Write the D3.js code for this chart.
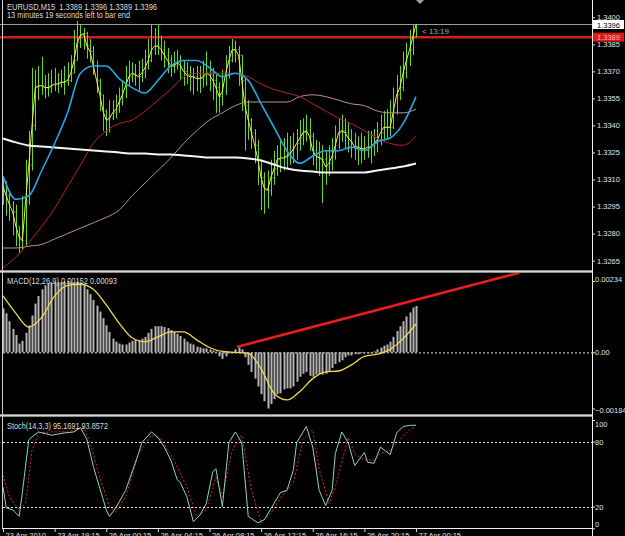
<!DOCTYPE html>
<html>
<head>
<meta charset="utf-8">
<script src="https://cdnjs.cloudflare.com/ajax/libs/d3/7.8.5/d3.min.js"></script>
<style>
  body { margin: 0; background: #000; }
  svg { display: block; }
  text { font-family: "Liberation Sans", Arial, sans-serif; white-space: pre; }
</style>
</head>
<body>
<script>
/*
EURUSD M15 terminal chart: price bars with moving averages,
MACD(12,26,9) and Stochastic(14,3,3) windows underneath
*/

var w = 625;
var h = 536;

// price bars, one entry per M15 bar (bar 0 .. bar 128)
var barHigh = [
  1.3312,1.3309,1.3304,1.3298,1.3296,1.3284,1.3301,1.3321,1.3337,1.3372,
  1.3371,1.3373,1.3378,1.3368,1.3369,1.3371,1.3372,1.3369,1.3371,1.3373,
  1.3375,1.3379,1.3393,1.3398,1.3396,1.3394,1.3392,1.3388,1.3384,1.3376,
  1.3366,1.3357,1.3349,1.3354,1.3354,1.3357,1.3361,1.3365,1.3373,1.3376,
  1.3375,1.3374,1.3376,1.3377,1.3382,1.3388,1.3396,1.3394,1.3396,1.3390,
  1.3387,1.3383,1.3379,1.3381,1.3382,1.3379,1.3376,1.3375,1.3373,1.3372,
  1.3373,1.3373,1.3376,1.3381,1.3376,1.3372,1.3368,1.3364,1.3371,1.3379,
  1.3384,1.3388,1.3387,1.3384,1.3379,1.3366,1.3354,1.3344,1.3338,1.3332,
  1.3321,1.3314,1.3315,1.3321,1.3326,1.3329,1.3332,1.3333,1.3336,1.3334,
  1.3336,1.3338,1.3343,1.3344,1.3346,1.3344,1.3336,1.3332,1.3331,1.3329,
  1.3326,1.3329,1.3333,1.3340,1.3344,1.3346,1.3344,1.3342,1.3338,1.3336,
  1.3334,1.3336,1.3334,1.3337,1.3337,1.3338,1.3342,1.3346,1.3348,1.3349,
  1.3354,1.3361,1.3368,1.3373,1.3381,1.3386,1.3393,1.3396,1.3396
];
var barLow = [
  1.3296,1.3290,1.3287,1.3279,1.3273,1.3269,1.3271,1.3273,1.3296,1.3315,
  1.3337,1.3354,1.3357,1.3355,1.3356,1.3358,1.3359,1.3358,1.3361,1.3357,
  1.3362,1.3364,1.3369,1.3376,1.3383,1.3382,1.3377,1.3375,1.3368,1.3358,
  1.3348,1.3337,1.3334,1.3336,1.3343,1.3344,1.3347,1.3351,1.3355,1.3362,
  1.3364,1.3362,1.3359,1.3364,1.3366,1.3371,1.3375,1.3379,1.3379,1.3376,
  1.3372,1.3369,1.3367,1.3369,1.3371,1.3365,1.3362,1.3363,1.3359,1.3357,
  1.3359,1.3358,1.3361,1.3362,1.3359,1.3354,1.3347,1.3347,1.3351,1.3357,
  1.3366,1.3375,1.3375,1.3362,1.3348,1.3326,1.3332,1.3327,1.3319,1.3307,
  1.3293,1.3291,1.3294,1.3301,1.3307,1.3312,1.3314,1.3315,1.3316,1.3318,
  1.3319,1.3321,1.3326,1.3329,1.3331,1.3326,1.3318,1.3315,1.3312,1.3297,
  1.3307,1.3312,1.3315,1.3321,1.3327,1.3331,1.3327,1.3325,1.3322,1.3321,
  1.3318,1.3319,1.3321,1.3322,1.3319,1.3323,1.3325,1.3329,1.3332,1.3333,
  1.3334,1.3338,1.3346,1.3354,1.3359,1.3366,1.3373,1.3379,1.3389
];
var barClose = [
  1.3306,1.3301,1.3296,1.3292,1.3284,1.3278,1.3276,1.3298,1.3318,1.3340,
  1.3361,1.3362,1.3362,1.3361,1.3361,1.3362,1.3363,1.3363,1.3364,1.3364,
  1.3365,1.3369,1.3376,1.3386,1.3390,1.3391,1.3384,1.3381,1.3373,1.3365,
  1.3357,1.3348,1.3343,1.3344,1.3347,1.3349,1.3353,1.3357,1.3362,1.3367,
  1.3369,1.3368,1.3367,1.3369,1.3372,1.3376,1.3382,1.3384,1.3384,1.3382,
  1.3379,1.3376,1.3373,1.3373,1.3375,1.3373,1.3370,1.3368,1.3367,1.3367,
  1.3366,1.3366,1.3367,1.3369,1.3368,1.3365,1.3361,1.3356,1.3359,1.3369,
  1.3376,1.3382,1.3382,1.3379,1.3365,1.3351,1.3343,1.3336,1.3329,1.3321,
  1.3311,1.3305,1.3304,1.3311,1.3316,1.3321,1.3322,1.3322,1.3323,1.3324,
  1.3327,1.3330,1.3333,1.3336,1.3337,1.3334,1.3326,1.3323,1.3322,1.3321,
  1.3317,1.3319,1.3323,1.3329,1.3336,1.3337,1.3336,1.3333,1.3331,1.3328,
  1.3328,1.3327,1.3327,1.3328,1.3328,1.3330,1.3332,1.3336,1.3339,1.3339,
  1.3339,1.3348,1.3357,1.3361,1.3369,1.3376,1.3382,1.3389,1.3396
];

// moving averages, read every 4th bar
var maBars = [0,4,8,12,16,20,24,28,32,36,40,44,48,52,56,60,64,68,72,76,80,84,88,92,96,100,104,108,112,116,120,124,128];
var maBlue = [
  1.3312,1.3299,1.3301,1.3315,1.3330,1.3347,1.3369,1.3373,1.3373,1.3366,
  1.3361,1.3358,1.3365,1.3373,1.3376,1.3376,1.3372,1.3367,1.3369,1.3365,
  1.3352,1.3339,1.3326,1.3319,1.3323,1.3326,1.3326,1.3328,1.3326,1.3331,
  1.3333,1.3341,1.3356
];
var maBrown = [
  1.3261,1.3267,1.3275,1.3284,1.3294,1.3306,1.3318,1.3330,1.3337,1.3341,
  1.3343,1.3348,1.3354,1.3360,1.3367,1.3369,1.3369,1.3369,1.3369,1.3367,
  1.3363,1.3360,1.3358,1.3356,1.3352,1.3348,1.3344,1.3341,1.3337,1.3333,
  1.3330,1.3329,1.3334
];
var maRosy = [
  1.3272,1.3272,1.3273,1.3274,1.3277,1.3280,1.3283,1.3286,1.3289,1.3293,
  1.3301,1.3308,1.3315,1.3322,1.3330,1.3337,1.3343,1.3347,1.3351,1.3353,
  1.3353,1.3353,1.3353,1.3356,1.3357,1.3356,1.3354,1.3352,1.3351,1.3348,
  1.3347,1.3347,1.3349
];
var maWhite = [
  1.33328,1.33306,1.33289,1.33283,1.33278,1.33272,1.33267,1.33261,1.33256,1.33250,
  1.33244,1.33244,1.33239,1.33239,1.33233,1.33228,1.33222,1.33222,1.33222,1.33217,
  1.33206,1.33183,1.33161,1.33150,1.33144,1.33139,1.33139,1.33139,1.33139,1.33150,
  1.33161,1.33172,1.33189
];

var priceDomain = [1.32598, 1.34096];
var priceTicks = [1.3265,1.3280,1.3295,1.3310,1.3325,1.3340,1.3355,1.3370,1.3385,1.3400];
var bidPrice = 1.3396;
var hLinePrice = 1.3389;

// MACD histogram, one per bar
var macdHist = [
  0.00144,0.00128,0.00102,0.00077,0.00057,0.00029,0.00038,0.00064,0.00089,0.00121,
  0.00160,0.00185,0.00207,0.00220,0.00227,0.00230,0.00230,0.00230,0.00230,0.00233,
  0.00234,0.00230,0.00230,0.00233,0.00230,0.00223,0.00207,0.00191,0.00172,0.00153,
  0.00134,0.00112,0.00089,0.00067,0.00045,0.00035,0.00029,0.00026,0.00026,0.00032,
  0.00038,0.00041,0.00041,0.00045,0.00051,0.00064,0.00077,0.00086,0.00086,0.00086,
  0.00083,0.00080,0.00073,0.00067,0.00061,0.00054,0.00045,0.00035,0.00029,0.00026,
  0.00019,0.00016,0.00013,0.00013,0.00010,0.00006,0.00003,-0.00013,-0.00022,-0.00013,
  -0.00003,-0.00003,0.00010,0.00016,0.00010,-0.00016,-0.00041,-0.00064,-0.00086,-0.00112,
  -0.00137,-0.00160,-0.00184,-0.00169,-0.00153,-0.00137,-0.00134,-0.00121,-0.00118,-0.00118,
  -0.00112,-0.00096,-0.00080,-0.00070,-0.00064,-0.00077,-0.00080,-0.00073,-0.00070,-0.00073,
  -0.00070,-0.00064,-0.00051,-0.00038,-0.00032,-0.00026,-0.00016,-0.00010,-0.00010,-0.00006,
  -0.00006,-0.00003,-0.00003,-0.00003,-0.00003,0.00003,0.00010,0.00016,0.00022,0.00026,
  0.00035,0.00051,0.00070,0.00086,0.00102,0.00118,0.00131,0.00147,0.00152
];
// MACD signal line, read at maBars
var macdSignal = [
  0.00185,0.00128,0.00083,0.00115,0.00185,0.00220,0.00223,0.00207,0.00156,0.00096,
  0.00048,0.00035,0.00051,0.00067,0.00067,0.00041,0.00016,0.00003,0,-0.00003,
  -0.00054,-0.00134,-0.00156,-0.00128,-0.00086,-0.00064,-0.00061,-0.00041,-0.00013,-0.00006,
  0.00010,0.00045,0.00093
];
// trend line drawn on the MACD window: [bar, value]
var macdTrend = [[72.5, 0.00018], [160, 0.00261]];

// stochastic main and signal, [bar] and [value]
var stochMainBars = [0,1,3,5,6,8,11,15,19,22,24,26,28,30,32,33,35,38,42,43,46,48,50,52,54,55,57,59,61,63,65,66,68,70,72,74,76,79,81,84,86,88,90,91,94,96,98,100,102,103,105,107,109,112,113,115,117,120,122,124,126,128];
var stochMain = [38,19,17,11,33,82,89,86,88,89,93,82,57,37,17,11,19,35,69,79,89,84,75,63,45,42,29,6,12,23,52,55,20,79,89,79,11,5,8,23,33,35,54,79,94,75,35,21,35,69,89,79,58,70,61,60,75,68,88,94,95,95.17];
var stochSigBars = [0,2,5,7,9,11,15,20,25,27,30,33,35,38,42,46,49,53,57,60,63,66,68,71,74,77,80,83,87,90,93,96,98,101,103,107,109,112,115,117,120,122,126,128];
var stochSignal = [49,29,17,23,72,88,89,89,93,79,47,20,15,29,69,86,82,63,38,11,17,47,29,72,86,35,5,14,32,42,82,91,55,23,38,84,69,63,63,69,72,79,91,93.86];
var stochLevels = [20, 80];
var stochTicks = [0, 20, 80, 100];

// time axis
var timeBars = [0,16,32,48,64,80,96,112,128];
var timeLabels = ["23 Apr 2010","23 Apr 19:15","26 Apr 00:15","26 Apr 04:15","26 Apr 08:15","26 Apr 12:15","26 Apr 16:15","26 Apr 20:15","27 Apr 00:15"];

window.onload = function() {

  var svg = d3.select("body")
              .append("svg")
              .attr("width", w)
              .attr("height", h)
              .style("background", "#000");

  var axisX = 592;

  var x = d3.scaleLinear().domain([0, 128]).range([3, 416]);
  var yPrice = d3.scaleLinear().domain(priceDomain).range([270, 0]);
  var yMacd = d3.scaleLinear().domain([d3.min(macdHist), d3.max(macdHist)]).range([408.5, 281]);
  var yStoch = d3.scaleLinear().domain([0, 100]).range([528.3, 420]);

  // clip areas for the three windows
  var defs = svg.append("defs");
  [["clipMain", 0, 270], ["clipMacd", 273, 141], ["clipStoch", 417, 111]].forEach(function(c) {
    defs.append("clipPath").attr("id", c[0])
        .append("rect").attr("x", 0).attr("y", c[1]).attr("width", axisX).attr("height", c[2]);
  });

  // ---- main window ----
  var main = svg.append("g").attr("clip-path", "url(#clipMain)");

  // horizontal line and bid line
  main.append("line")
      .attr("x1", 0).attr("x2", axisX)
      .attr("y1", yPrice(hLinePrice)).attr("y2", yPrice(hLinePrice))
      .attr("stroke", "#d01c1c").attr("stroke-width", 2.5);
  main.append("line")
      .attr("x1", 0).attr("x2", axisX)
      .attr("y1", yPrice(bidPrice)).attr("y2", yPrice(bidPrice))
      .attr("stroke", "#9c9c9c").attr("stroke-width", 1);

  // bars
  var bars = main.append("g").attr("stroke", "#63d92c").attr("stroke-width", 1);
  barClose.forEach(function(c, i) {
    var open = i > 0 ? barClose[i - 1] : c;
    var bx = Math.round(x(i)) + 0.5;
    bars.append("line").attr("x1", bx).attr("x2", bx)
        .attr("y1", yPrice(barHigh[i])).attr("y2", yPrice(barLow[i]));
    bars.append("line").attr("x1", bx - 1).attr("x2", bx)
        .attr("y1", yPrice(open)).attr("y2", yPrice(open));
    bars.append("line").attr("x1", bx).attr("x2", bx + 1)
        .attr("y1", yPrice(c)).attr("y2", yPrice(c));
  });

  // close line
  main.append("path")
      .datum(barClose)
      .attr("fill", "none")
      .attr("stroke", "#f2ee3c")
      .attr("stroke-width", 1)
      .attr("d", d3.line().x(function(d, i) { return x(i); }).y(function(d) { return yPrice(d); }));

  // moving averages
  var maLine = d3.line()
                 .curve(d3.curveMonotoneX)
                 .x(function(d, i) { return x(maBars[i]); })
                 .y(function(d) { return yPrice(d); });
  [[maRosy, "#c09088", 1], [maBrown, "#b02a22", 1], [maWhite, "#f4f4f4", 2], [maBlue, "#22a8e6", 1.6]].forEach(function(m) {
    main.append("path").datum(m[0])
        .attr("fill", "none").attr("stroke", m[1]).attr("stroke-width", m[2])
        .attr("d", maLine);
  });

  // header text
  svg.append("text").attr("x", 7).attr("y", 9.5)
     .attr("fill", "#dcdcdc").style("font-size", "8.5px")
     .attr("textLength", 150).attr("lengthAdjust", "spacingAndGlyphs")
     .text("EURUSD,M15  1.3389 1.3396 1.3389 1.3396");
  svg.append("text").attr("x", 7).attr("y", 17.5)
     .attr("fill", "#dcdcdc").style("font-size", "8.5px")
     .attr("textLength", 123).attr("lengthAdjust", "spacingAndGlyphs")
     .text("13 minutes 19 seconds left to bar end");

  // time left label and shift marker
  svg.append("text").attr("x", x(128) + 6).attr("y", 33.5)
     .attr("fill", "#a8a8a8").style("font-size", "8px")
     .text("< 13:19");
  svg.append("path")
     .attr("d", "M416,0 L420,4 L424,0 Z")
     .attr("fill", "#a0a0a0");

  // ---- MACD window ----
  var macd = svg.append("g").attr("clip-path", "url(#clipMacd)");

  macd.append("line")
      .attr("x1", 3).attr("x2", axisX)
      .attr("y1", yMacd(0) + 0.5).attr("y2", yMacd(0) + 0.5)
      .attr("stroke", "#e6e6e6").attr("stroke-dasharray", "2,2");

  macd.selectAll(".hist")
      .data(macdHist)
      .enter()
      .append("rect")
      .attr("class", "hist")
      .attr("x", function(d, i) { return Math.round(x(i)) - 0.5; })
      .attr("width", 2)
      .attr("y", function(d) { return Math.min(yMacd(d), yMacd(0)); })
      .attr("height", function(d) { return Math.abs(yMacd(d) - yMacd(0)); })
      .attr("fill", "#b4b4b4");

  macd.append("path")
      .datum(macdSignal)
      .attr("fill", "none")
      .attr("stroke", "#f0d84a")
      .attr("stroke-width", 1.3)
      .attr("d", d3.line().curve(d3.curveMonotoneX)
                  .x(function(d, i) { return x(maBars[i]); })
                  .y(function(d) { return yMacd(d); }));

  macd.append("line")
      .attr("x1", x(macdTrend[0][0])).attr("y1", yMacd(macdTrend[0][1]))
      .attr("x2", x(macdTrend[1][0])).attr("y2", yMacd(macdTrend[1][1]))
      .attr("stroke", "#e41e1e").attr("stroke-width", 2.6);

  svg.append("text").attr("x", 7).attr("y", 284)
     .attr("fill", "#dcdcdc").style("font-size", "8.5px")
     .attr("textLength", 110).attr("lengthAdjust", "spacingAndGlyphs")
     .text("MACD(12,26,9) 0.00152 0.00093");

  // ---- Stochastic window ----
  var stoch = svg.append("g").attr("clip-path", "url(#clipStoch)");

  stoch.selectAll(".level")
       .data(stochLevels)
       .enter()
       .append("line")
       .attr("class", "level")
       .attr("x1", 3).attr("x2", axisX)
       .attr("y1", function(d) { return Math.round(yStoch(d)) + 0.5; })
       .attr("y2", function(d) { return Math.round(yStoch(d)) + 0.5; })
       .attr("stroke", "#e6e6e6").attr("stroke-dasharray", "2,2");

  stoch.append("path")
       .datum(stochSignal)
       .attr("fill", "none")
       .attr("stroke", "#e02a2a")
       .attr("stroke-dasharray", "2,2")
       .attr("d", d3.line().x(function(d, i) { return x(stochSigBars[i]); }).y(function(d) { return yStoch(d); }));

  stoch.append("path")
       .datum(stochMain)
       .attr("fill", "none")
       .attr("stroke", "#86d6c2")
       .attr("d", d3.line().x(function(d, i) { return x(stochMainBars[i]); }).y(function(d) { return yStoch(d); }));

  svg.append("text").attr("x", 7).attr("y", 429)
     .attr("fill", "#dcdcdc").style("font-size", "8.5px")
     .attr("textLength", 101).attr("lengthAdjust", "spacingAndGlyphs")
     .text("Stoch(14,3,3) 95.1691 93.8572");

  // ---- frame: separators, borders ----
  [270, 414].forEach(function(y0) {
    svg.append("rect").attr("x", 0).attr("y", y0).attr("width", axisX).attr("height", 3).attr("fill", "#8c8c8c");
    svg.append("line").attr("x1", 0).attr("x2", axisX).attr("y1", y0 + 1.5).attr("y2", y0 + 1.5)
       .attr("stroke", "#d6d6d6");
  });
  svg.append("line").attr("x1", 2.5).attr("x2", 2.5).attr("y1", 0).attr("y2", 529)
     .attr("stroke", "#d0d0d0");
  svg.append("line").attr("x1", axisX + 0.5).attr("x2", axisX + 0.5).attr("y1", 0).attr("y2", h)
     .attr("stroke", "#f0f0f0");
  svg.append("line").attr("x1", 2).attr("x2", axisX).attr("y1", 528.5).attr("y2", 528.5)
     .attr("stroke", "#f0f0f0");

  // ---- axes ----
  var priceAxis = svg.append("g")
     .attr("class", "axis")
     .attr("transform", "translate(" + axisX + ",0)")
     .call(d3.axisRight(yPrice).tickValues(priceTicks).tickSize(3).tickPadding(2)
             .tickFormat(d3.format(".4f")));

  var macdAxis = svg.append("g")
     .attr("class", "axis")
     .attr("transform", "translate(" + axisX + ",0)")
     .call(d3.axisRight(yMacd).tickValues([d3.max(macdHist), 0, d3.min(macdHist)]).tickSize(3).tickPadding(0)
             .tickFormat(function(d) { return d === 0 ? "0.00" : d3.format(".5f")(d); }));
  macdAxis.selectAll(".tick text")
     .attr("dy", function(d) { return d > 0 ? "0.05em" : (d < 0 ? "0.55em" : "0.32em"); });

  var stochAxis = svg.append("g")
     .attr("class", "axis")
     .attr("transform", "translate(" + axisX + ",0)")
     .call(d3.axisRight(yStoch).tickValues(stochTicks).tickSize(3).tickPadding(0));
  stochAxis.selectAll(".tick text")
     .attr("dy", function(d) { return d === 100 ? "0.8em" : (d === 0 ? "-0.2em" : "0.32em"); });

  var timeAxis = svg.append("g")
     .attr("class", "axis")
     .attr("transform", "translate(0,528)")
     .call(d3.axisBottom(x).tickValues(timeBars).tickSize(4)
             .tickFormat(function(d, i) { return timeLabels[i]; }));
  timeAxis.selectAll(".tick text")
     .attr("text-anchor", "start")
     .attr("x", 2)
     .attr("y", 5)
     .attr("dy", "0.71em");

  svg.selectAll(".axis .domain").remove();
  svg.selectAll(".axis line").attr("stroke", "#e0e0e0");
  svg.selectAll(".axis text")
     .attr("fill", "#e0e0e0")
     .style("font-size", "7.5px")
     .style("font-family", "'Liberation Sans', Arial, sans-serif");

  // price boxes on the axis
  [[bidPrice, "#ffffff", "#000000"], [hLinePrice, "#e01818", "#ffb4b4"]].forEach(function(b) {
    var by = yPrice(b[0]);
    svg.append("rect").attr("x", axisX + 1).attr("y", by - 4.5).attr("width", 31).attr("height", 9)
       .attr("fill", b[1]);
    svg.append("text").attr("x", axisX + 5).attr("y", by + 3)
       .attr("fill", b[2]).style("font-size", "7.5px")
       .text(d3.format(".4f")(b[0]));
  });
};
</script>
</body>
</html>
